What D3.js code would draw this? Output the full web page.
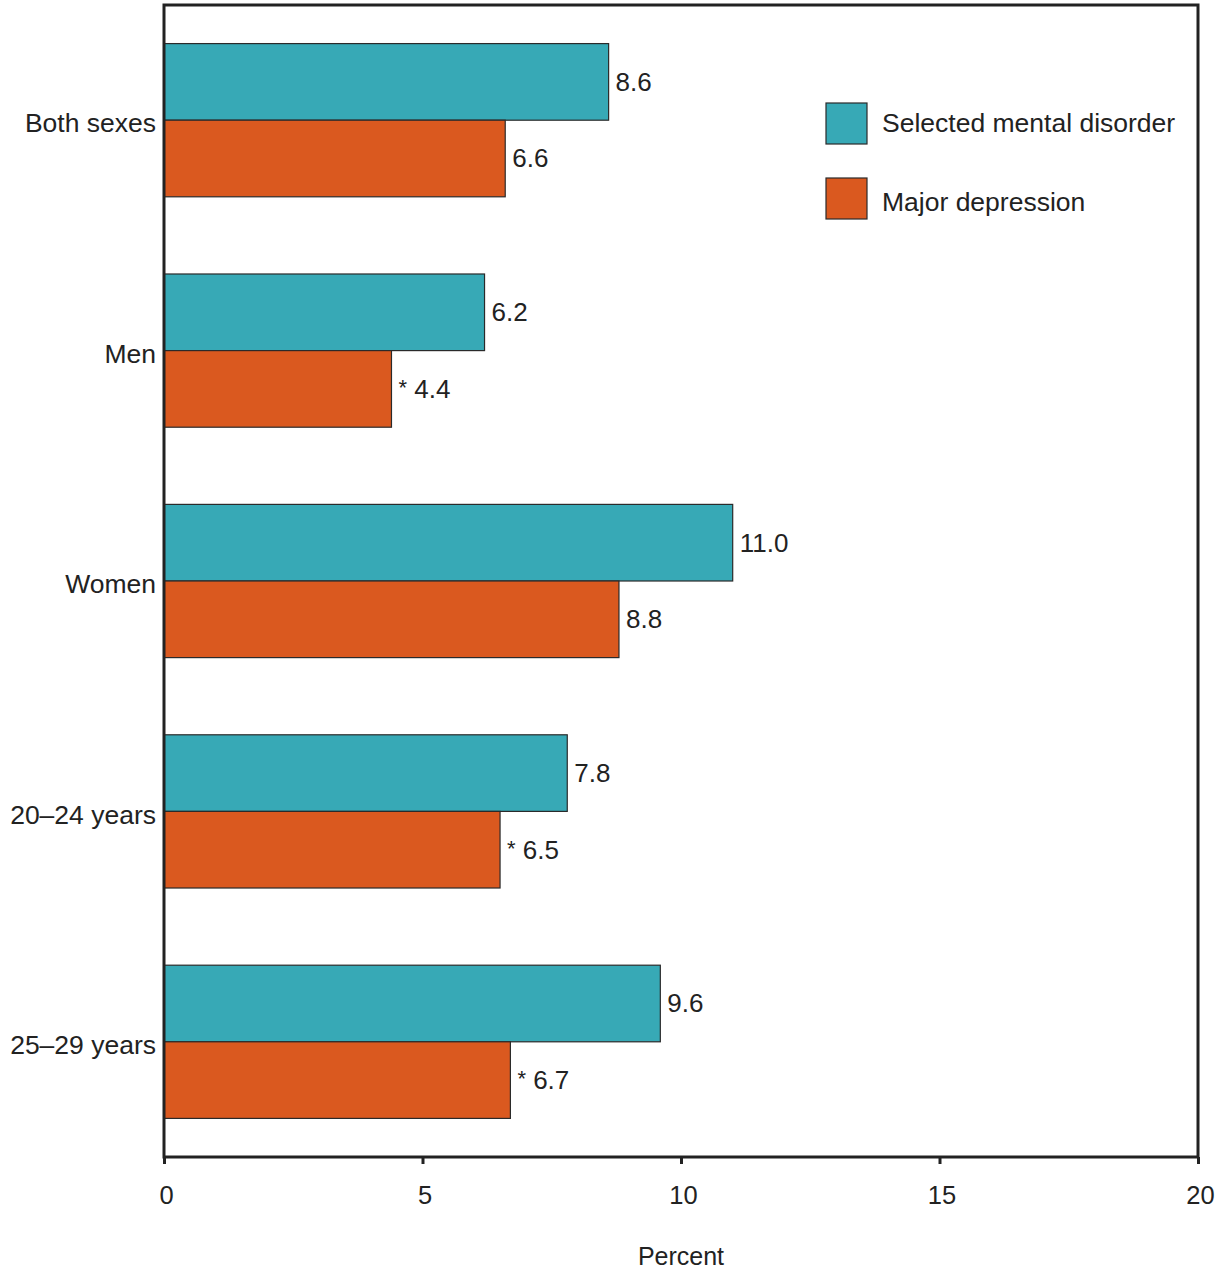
<!DOCTYPE html>
<html>
<head>
<meta charset="utf-8">
<script src="https://cdn.jsdelivr.net/npm/d3@7"></script>
<style>
  body { margin: 0; background: #fff; }
  svg { display: block; font-family: "Liberation Sans", Arial, sans-serif; }
</style>
</head>
<body>
<svg id="chart" width="1225" height="1270"></svg>
<script>
const categories = ["Both sexes", "Men", "Women", "20–24 years", "25–29 years"];
const seriesNames = ["Selected mental disorder", "Major depression"];
const selectedMental = [8.6, 6.2, 11.0, 7.8, 9.6];
const majorDepression = [6.6, 4.4, 8.8, 6.5, 6.7];
const depressionFlag = [false, true, false, true, true];
const xTicks = [0, 5, 10, 15, 20];
const axisTitle = "Percent";

(function () {
const colors = ["#37a9b6", "#da591f"];
const svg = d3.select("#chart");
const pLeft = 164, pRight = 1198, pTop = 5, pBottom = 1157;

const x = d3.scaleLinear().domain([0, 20]).range([pLeft, pRight]);
const y = d3.scaleBand().domain(categories).range([pTop, pBottom]).paddingInner(0.335).paddingOuter(0.1675);
const sub = d3.scaleBand().domain(seriesNames).range([0, y.bandwidth()]);

const rows = categories.map((c, i) => ({
  cat: c,
  vals: [
    { s: seriesNames[0], v: selectedMental[i], star: false },
    { s: seriesNames[1], v: majorDepression[i], star: depressionFlag[i] }
  ]
}));

const g = svg.selectAll("g.grp").data(rows).enter().append("g")
  .attr("transform", d => `translate(0,${y(d.cat)})`);

g.selectAll("rect").data(d => d.vals).enter().append("rect")
  .attr("x", x(0))
  .attr("y", d => sub(d.s))
  .attr("width", d => x(d.v) - x(0))
  .attr("height", sub.bandwidth())
  .attr("fill", (d, i) => colors[i])
  .attr("stroke", "#2a2a2a")
  .attr("stroke-width", 1.2);

g.selectAll("text.val").data(d => d.vals).enter().append("text")
  .attr("class", "val")
  .attr("x", d => x(d.v) + 7)
  .attr("y", d => sub(d.s) + sub.bandwidth() / 2 + 9)
  .attr("font-size", 26)
  .attr("fill", "#222")
  .each(function (d) {
    const t = d3.select(this);
    if (d.star) {
      t.append("tspan").text("*").attr("font-size", 22).attr("dy", -3);
      t.append("tspan").text("\u00a0" + d.v.toFixed(1)).attr("dy", 3);
    } else {
      t.text(d.v.toFixed(1));
    }
  });

// category labels
svg.selectAll("text.cat").data(categories).enter().append("text")
  .attr("class", "cat")
  .attr("x", 156)
  .attr("y", d => y(d) + y.bandwidth() / 2 + 3)
  .attr("dy", "0.35em")
  .attr("text-anchor", "end")
  .attr("font-size", 26.5)
  .attr("fill", "#222")
  .text(d => d);

// frame
svg.append("rect")
  .attr("x", pLeft).attr("y", pTop)
  .attr("width", pRight - pLeft).attr("height", pBottom - pTop)
  .attr("fill", "none").attr("stroke", "#222").attr("stroke-width", 3);

// x axis
const axis = d3.axisBottom(x).tickValues(xTicks).tickSize(7).tickPadding(22).tickFormat(d3.format("d"));
const ax = svg.append("g").attr("transform", `translate(0,${pBottom})`).call(axis);
ax.select(".domain").remove();
ax.selectAll(".tick line").attr("stroke", "#222").attr("stroke-width", 3);
ax.selectAll(".tick text").attr("font-size", 25.5).attr("fill", "#222")
  .attr("font-family", "Liberation Sans, Arial, sans-serif").attr("dx", "0.08em");

svg.append("text")
  .attr("x", (pLeft + pRight) / 2)
  .attr("y", 1265)
  .attr("text-anchor", "middle")
  .attr("font-size", 25)
  .attr("fill", "#222")
  .text(axisTitle);

// legend
const lg = svg.append("g").attr("transform", "translate(826,103)");
seriesNames.forEach((s, i) => {
  lg.append("rect").attr("x", 0).attr("y", i * 75).attr("width", 41).attr("height", 41)
    .attr("fill", colors[i]).attr("stroke", "#2a2a2a").attr("stroke-width", 1.2);
  lg.append("text").attr("x", 56).attr("y", i * 79 + 19.5).attr("dy", "0.35em")
    .attr("font-size", 26.5).attr("fill", "#222").text(s);
});
})();
</script>
</body>
</html>
